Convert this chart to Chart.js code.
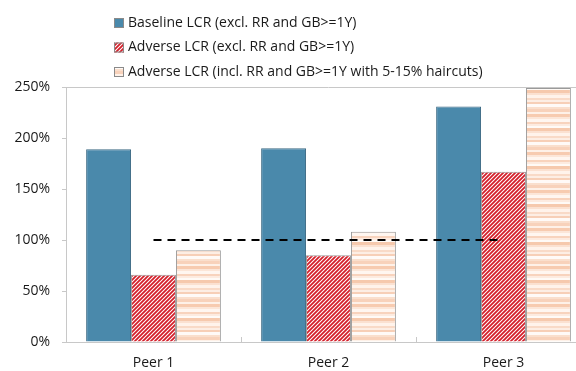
<!DOCTYPE html>
<html>
<head>
<meta charset="utf-8">
<script src="https://cdn.jsdelivr.net/npm/chart.js@4.4.1/dist/chart.umd.min.js"></script>
<style>
  html, body { margin: 0; padding: 0; background: #fff; overflow: hidden; }
  #wrap { width: 600px; height: 371px; }
</style>
</head>
<body>
<div id="wrap"><canvas id="c" width="600" height="371"></canvas></div>
<script>
// Liquidity coverage ratios by peer, in percent
const categories = ['Peer 1', 'Peer 2', 'Peer 3'];
const seriesNames = [
  'Baseline LCR (excl. RR and GB>=1Y)',
  'Adverse LCR (excl. RR and GB>=1Y)',
  'Adverse LCR (incl. RR and GB>=1Y with 5-15% haircuts)'
];
const baselineExcl = [189, 190, 231];
const adverseExcl = [66, 85, 167];
const adverseIncl = [90, 108, 249];
const minimumRequirement = [100, 100, 100];
const yTicks = [0, 50, 100, 150, 200, 250];

const FONT = '"Open Sans", "Noto Sans", sans-serif';

// Red diagonal hatching on white
function hatchPattern() {
  const s = 4;
  const cv = document.createElement('canvas');
  cv.width = s; cv.height = s;
  const g = cv.getContext('2d');
  g.fillStyle = '#ffffff';
  g.fillRect(0, 0, s, s);
  g.strokeStyle = '#d41f2a';
  g.lineWidth = 1.8;
  g.beginPath();
  g.moveTo(0, s); g.lineTo(s, 0);
  g.moveTo(-1, 1); g.lineTo(1, -1);
  g.moveTo(s - 1, s + 1); g.lineTo(s + 1, s - 1);
  g.stroke();
  return g.createPattern(cv, 'repeat');
}

// Soft peach horizontal banding
function bandPattern() {
  const bands = [
    ['#f7cbb0', 3], ['#fce6d8', 2], ['#fff6f0', 3], ['#f8d3bd', 2],
    ['#fdebe0', 2], ['#fffaf6', 2], ['#f6c9ad', 3], ['#fbe1d1', 2],
    ['#fff3eb', 3], ['#f9dac7', 2], ['#fdeee4', 2], ['#f7cfb7', 2],
    ['#fffaf7', 3], ['#fadfcd', 2], ['#f8d2bb', 3], ['#fef1e8', 2]
  ];
  const h = bands.reduce((a, b) => a + b[1], 0);
  const cv = document.createElement('canvas');
  cv.width = 4; cv.height = h;
  const g = cv.getContext('2d');
  let y = 0;
  for (const [col, bh] of bands) {
    g.fillStyle = col;
    g.fillRect(0, y, 4, bh);
    y += bh;
  }
  return g.createPattern(cv, 'repeat');
}

const hatch = hatchPattern();
const bands = bandPattern();

// Frame, inward category ticks and the stacked legend
const decorations = {
  id: 'decorations',
  beforeDatasetsDraw(chart) {
    const { ctx, chartArea: a, scales } = chart;
    ctx.save();
    ctx.strokeStyle = '#c8c8c8';
    ctx.lineWidth = 1;
    ctx.beginPath();
    ctx.moveTo(a.left, a.top + 0.5);
    ctx.lineTo(a.right, a.top + 0.5);
    ctx.moveTo(a.right - 0.5, a.top);
    ctx.lineTo(a.right - 0.5, a.bottom);
    const x = scales.x;
    for (let i = 0; i < categories.length - 1; i++) {
      const px = Math.round((x.getPixelForTick(i) + x.getPixelForTick(i + 1)) / 2) + 0.5;
      ctx.moveTo(px, a.bottom);
      ctx.lineTo(px, a.bottom - 5);
    }
    ctx.stroke();
    ctx.restore();
  },
  afterDraw(chart) {
    const { ctx } = chart;
    ctx.save();
    ctx.font = '14px ' + FONT;
    ctx.textBaseline = 'middle';
    ctx.textAlign = 'left';
    const x0 = 114, y0 = 23, step = 24.5;
    seriesNames.forEach((name, i) => {
      const ds = chart.data.datasets[i];
      const y = y0 + i * step;
      ctx.fillStyle = ds.backgroundColor;
      ctx.fillRect(x0, y - 5, 10, 10);
      ctx.strokeStyle = '#8a8a8a';
      ctx.lineWidth = 1;
      ctx.strokeRect(x0 + 0.5, y - 4.5, 9, 9);
      ctx.fillStyle = '#1a1a1a';
      ctx.fillText(name, x0 + 14, y);
    });
    ctx.restore();
  }
};

new Chart(document.getElementById('c'), {
  type: 'bar',
  data: {
    labels: categories,
    datasets: [
      {
        label: seriesNames[0], data: baselineExcl,
        backgroundColor: '#4a89ab', borderColor: '#3d6a84', borderWidth: 1,
        categoryPercentage: 0.77, barPercentage: 1, order: 2
      },
      {
        label: seriesNames[1], data: adverseExcl,
        backgroundColor: hatch, borderColor: '#9a9a9a', borderWidth: 1,
        categoryPercentage: 0.77, barPercentage: 1, order: 2
      },
      {
        label: seriesNames[2], data: adverseIncl,
        backgroundColor: bands, borderColor: '#9a9a9a', borderWidth: 1,
        categoryPercentage: 0.77, barPercentage: 1, order: 2
      },
      {
        type: 'line', label: 'Minimum', data: minimumRequirement,
        borderColor: '#000000', borderWidth: 2, borderDash: [8, 6],
        pointRadius: 0, fill: false, order: 1
      }
    ]
  },
  options: {
    responsive: false,
    animation: false,
    layout: { padding: { left: 0, right: 9, top: 87, bottom: 0 } },
    plugins: { legend: { display: false }, tooltip: { enabled: false } },
    scales: {
      x: {
        offset: true,
        grid: { display: true, drawOnChartArea: false, drawTicks: false, color: '#c8c8c8' },
        border: { color: '#c8c8c8' },
        ticks: { color: '#1a1a1a', font: { family: FONT, size: 14 }, padding: 13 },
        afterFit(s) { s.height = 29; }
      },
      y: {
        min: 0, max: 250,
        afterBuildTicks(s) { s.ticks = yTicks.map(v => ({ value: v })); },
        grid: { display: true, drawOnChartArea: false, drawTicks: true, tickLength: 4, color: '#c8c8c8' },
        border: { color: '#c8c8c8' },
        ticks: { color: '#1a1a1a', font: { family: FONT, size: 14 }, padding: 12, callback: v => v + '%' },
        afterFit(s) { s.width = 66; }
      }
    }
  },
  plugins: [decorations]
});
</script>
</body>
</html>
